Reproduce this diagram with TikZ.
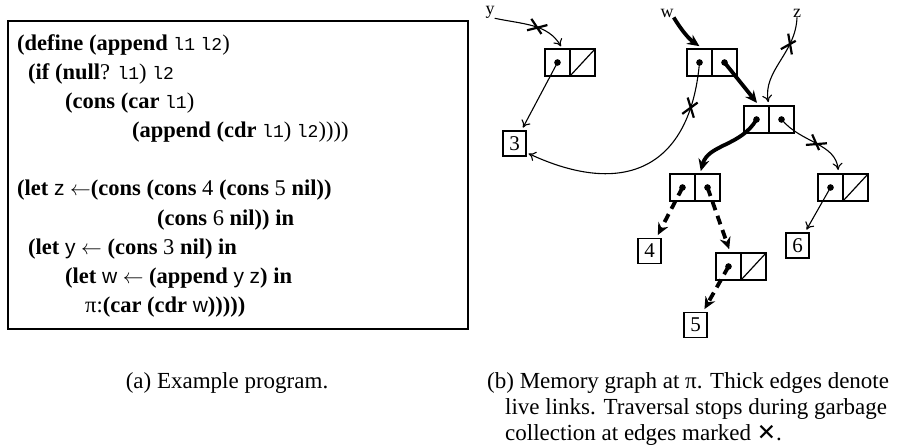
\documentclass[tikz,border=0pt]{standalone}
\usepackage{fontspec}
\setmainfont{Liberation Serif}
\newfontfamily\monofont{Liberation Mono}
\newfontfamily\sansfont{Liberation Sans}
\newfontfamily\symfont{DejaVu Sans}
\usetikzlibrary{shapes.misc,arrows.meta,positioning}

\newcommand{\tv}[1]{{\monofont\mdseries\fontsize{18}{20}\selectfont #1}}
\newcommand{\sv}[1]{{\sansfont\mdseries\fontsize{21}{27}\selectfont #1}}
\newcommand{\bindarrow}{\ensuremath{\leftarrow}}

\begin{document}
\begin{tikzpicture}[x=1pt, y=1pt,
    codeline/.style={anchor=base west, inner sep=0pt, font=\bfseries\fontsize{22.5}{27}\selectfont},
    capline/.style={anchor=base west, inner sep=0pt, font=\fontsize{23}{27}\selectfont},
    half/.style={draw, line width=1.5pt, minimum width=25pt, minimum height=27pt, inner sep=0pt, outer sep=0pt},
    value/.style={draw, line width=1.5pt, minimum width=23pt, minimum height=25pt, inner sep=0pt, font=\fontsize{21}{24}\selectfont},
    varname/.style={inner sep=0pt, font=\fontsize{18}{20}\selectfont},
    ptr/.style={-{To[length=7pt, width=10pt]}, line width=1.1pt},
    live/.style={-{Stealth[length=12pt, width=11pt, inset=4pt]}, line width=3.8pt},
    livedash/.style={live, dash pattern=on 9pt off 6pt},
    cutmark/.style={cross out, draw, line width=2.2pt, minimum width=15pt, minimum height=10pt, inner sep=0pt, sloped},
]
\useasboundingbox (0,0) rectangle (907,-446);

% Program box
\node[draw, line width=2.3pt, minimum width=460pt, minimum height=308pt, inner sep=0pt] (prog) at (238,-175) {};

\node[codeline] (c1) at (17,-50.5) {(define (append \tv{l1} \tv{l2}\textmd{)}};
\node[codeline] (c2) at (28,-79.6) {(if (null\textmd{?} \tv{l1}\textmd{)} \tv{l2}};
\node[codeline] (c3) at (65,-108.7) {(cons (car \tv{l1}\textmd{)}};
\node[codeline] (c4) at (132,-137.8) {(append (cdr \tv{l1}\textmd{)} \tv{l2}\textmd{))))}};
\node[codeline] (c5) at (17,-196) {(let \sv{z} \bindarrow(cons (cons \textmd{4} (cons \textmd{5} nil))};
\node[codeline] (c6) at (157,-225.1) {(cons \textmd{6} nil)) in};
\node[codeline] (c7) at (28,-254.2) {(let \sv{y} \bindarrow{} (cons \textmd{3} nil) in};
\node[codeline] (c8) at (65,-283.3) {(let \sv{w} \bindarrow{} (append \sv{y} \sv{z}) in};
\node[codeline] (c9) at (85,-312.4) {\textmd{π:}(car (cdr \sv{w})))))};

% Variables
\node[varname] (ylab) at (490,-12) {y};
\node[varname] (wlab) at (667,-13) {w};
\node[varname] (zlab) at (797,-13) {z};

% Cons cells
\node[half] (yl) at (557.5,-62.5) {};
\node[half, right=0pt of yl] (yr) {};
\node[half] (wl) at (699.5,-62.5) {};
\node[half, right=0pt of wl] (wr) {};
\node[half] (zl) at (756.5,-119.5) {};
\node[half, right=0pt of zl] (zr) {};
\node[half] (pl) at (682.5,-187.5) {};
\node[half, right=0pt of pl] (pr) {};
\node[half] (sl) at (830.5,-187.5) {};
\node[half, right=0pt of sl] (sr) {};
\node[half] (ql) at (728.5,-266.5) {};
\node[half, right=0pt of ql] (qr) {};

% Values
\node[value] (v3) at (514.5,-143.5) {3};
\node[value] (v4) at (649.5,-251) {4};
\node[value] (v5) at (695.5,-325) {5};
\node[value] (v6) at (797.5,-245.5) {6};

% nil
\foreach \c in {yr, sr, qr}
  \draw[line width=1.2pt] (\c.south west) -- (\c.north east);

% Edges
\draw[ptr, shorten >=3pt] (ylab.south east) to[out=-12, in=120] node[cutmark, pos=0.55] {} ([xshift=5pt]yl.north);
\draw[ptr, shorten >=3pt] (yl.center) -- (v3);
\draw[live, shorten >=5pt] (wlab.south east) to[bend right=12] ([xshift=4pt]wl.north);
\draw[ptr, shorten >=4pt] (zlab.south) to[out=-92, in=100] node[cutmark, pos=0.28] {} (zl.north east);
\draw[ptr, shorten >=2pt] (wl.center) to[out=-95, in=-25, looseness=1.4] node[cutmark, pos=0.16] {} ([yshift=4pt]v3.south east);
\draw[live, shorten >=4pt] (wr.center) -- ([xshift=3pt]zl.north);
\draw[live, shorten >=3pt] (zl.center) to[out=-120, in=75] ([xshift=5pt]pl.north east);
\draw[ptr, shorten >=4pt] (zr.center) to[out=-50, in=95] node[cutmark, pos=0.5] {} ([xshift=8pt]sl.north);
\draw[ptr, shorten >=3pt] (sl.center) -- (v6);
\draw[livedash, shorten >=3pt] (pl.center) -- (v4);
\draw[livedash, shorten >=4pt] (pr.center) -- ([xshift=2pt]ql.north);
\draw[livedash, shorten >=3pt] (ql.center) -- (v5);

% Pointer dots
\foreach \c in {yl, wl, wr, zl, zr, pl, pr, ql, sl}
  \fill (\c.center) circle (3.3pt);

% Captions
\node[capline, anchor=base] (capa) at (227,-388) {(a) Example program.};
\node[capline] (capb1) at (487,-388) {(b) Memory graph at π. Thick edges denote};
\node[capline] (capb2) at (505,-414) {live links. Traversal stops during garbage};
\node[capline] (capb3) at (505,-440) {collection at edges marked {\symfont ✕}.};

\end{tikzpicture}
\end{document}
